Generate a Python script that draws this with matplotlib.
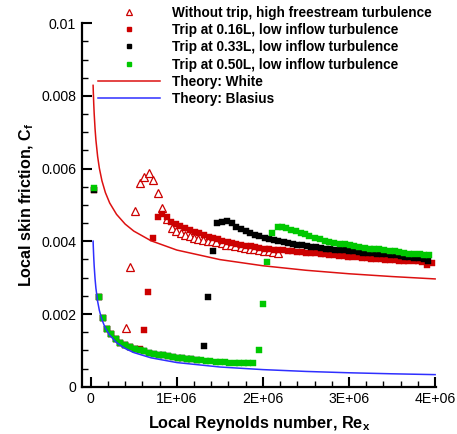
import matplotlib
matplotlib.use("Agg")
import matplotlib.pyplot as plt
from matplotlib.lines import Line2D
import numpy as np

plt.rcParams['font.family'] = ['Liberation Sans', 'DejaVu Sans']
plt.rcParams['mathtext.fontset'] = 'custom'
plt.rcParams['mathtext.bf'] = 'Liberation Sans:bold'
plt.rcParams['mathtext.rm'] = 'Liberation Sans'

# ---------------- data (Re in millions) ----------------
tri_re = [0.408, 0.46, 0.512, 0.567, 0.624, 0.678, 0.724, 0.778, 0.832, 0.888, 0.944, 0.994,
          1.05, 1.10, 1.15, 1.20, 1.25, 1.30, 1.36, 1.41, 1.46, 1.52, 1.57, 1.63, 1.68, 1.74,
          1.79, 1.85, 1.90, 1.96, 2.01, 2.07, 2.12, 2.18]
tri_cf = [0.00162, 0.00329, 0.00484, 0.00561, 0.00576, 0.00588, 0.00569, 0.00532, 0.00492,
          0.0046, 0.00436, 0.00428, 0.00422, 0.00417, 0.00415, 0.0041, 0.00406, 0.00404,
          0.00401, 0.004, 0.00397, 0.00394, 0.00391, 0.00389, 0.00386, 0.00384, 0.00382,
          0.0038, 0.00378, 0.00376, 0.00374, 0.00372, 0.0037, 0.00369]

red_re = [0.038, 0.092, 0.142, 0.193, 0.24, 0.29, 0.34, 0.40, 0.455, 0.51, 0.57, 0.624, 0.67,
          0.724, 0.778, 0.832, 0.886, 0.936, 0.99, 1.04, 1.10, 1.156, 1.21, 1.26, 1.32, 1.37,
          1.42, 1.48, 1.53, 1.59, 1.64, 1.69, 1.75, 1.80, 1.86, 1.91, 1.96, 2.02, 2.07, 2.13,
          2.18, 2.23, 2.29, 2.34, 2.40, 2.45, 2.50, 2.56, 2.61, 2.67, 2.72, 2.77, 2.83, 2.88,
          2.94, 2.99, 3.04, 3.10, 3.15, 3.21, 3.26, 3.31, 3.37, 3.42, 3.48, 3.53, 3.58, 3.64,
          3.69, 3.75, 3.80, 3.85, 3.91, 3.96]
red_cf = [0.00540, 0.00248, 0.00188, 0.00160, 0.00145, 0.00130, 0.00121, 0.00115, 0.00108,
          0.00104, 0.00103, 0.00156, 0.00261, 0.00410, 0.00468, 0.00475, 0.00466, 0.00454,
          0.00448, 0.00442, 0.00437, 0.00431, 0.00426, 0.00422, 0.00417, 0.00413, 0.00409,
          0.00405, 0.00401, 0.00398, 0.00395, 0.00393, 0.00390, 0.00388, 0.00386, 0.00384,
          0.00382, 0.00380, 0.00379, 0.00377, 0.00376, 0.00375, 0.00374, 0.00372, 0.00371,
          0.00370, 0.00369, 0.00368, 0.00367, 0.00365, 0.00364, 0.00363, 0.00362, 0.00360,
          0.00359, 0.00358, 0.00357, 0.00356, 0.00355, 0.00354, 0.00352, 0.00351, 0.00350,
          0.00349, 0.00349, 0.00348, 0.00347, 0.00347, 0.00346, 0.00345, 0.00345, 0.00344,
          0.00336, 0.00340]

blk_re = [0.038, 0.092, 0.142, 0.193, 0.24, 0.29, 0.34, 0.40, 0.455, 0.51, 0.57, 0.62, 0.68,
          0.73, 0.79, 0.84, 0.90, 0.95, 1.01, 1.06, 1.12, 1.17, 1.23, 1.31, 1.36, 1.418,
          1.47, 1.52, 1.58, 1.64, 1.69, 1.74, 1.80, 1.85, 1.91, 1.96, 2.02, 2.07, 2.13, 2.18,
          2.24, 2.29, 2.35, 2.40, 2.45, 2.51, 2.56, 2.62, 2.67, 2.73, 2.78, 2.84, 2.89, 2.94,
          3.00, 3.05, 3.11, 3.16, 3.22, 3.27, 3.32, 3.38, 3.43, 3.49, 3.54, 3.60, 3.65, 3.70,
          3.76, 3.81, 3.87, 3.92]
blk_cf = [0.0054, 0.00248, 0.00188, 0.0016, 0.00145, 0.0013, 0.00121, 0.00115, 0.00108,
          0.00104, 0.001, 0.00097, 0.00093, 0.0009, 0.00088, 0.00086, 0.00084, 0.00082,
          0.0008, 0.00079, 0.00077, 0.00076, 0.00074, 0.00113, 0.00248, 0.00374,
          0.00451, 0.00453, 0.00456, 0.0045, 0.0044, 0.00434, 0.00427, 0.00422, 0.00418,
          0.00414, 0.0041, 0.00407, 0.00404, 0.00401, 0.00398, 0.00395, 0.00393, 0.00391,
          0.00389, 0.00387, 0.00385, 0.00383, 0.00381, 0.0038, 0.00379, 0.00377, 0.00376,
          0.00375, 0.00373, 0.00372, 0.0037, 0.00369, 0.00368, 0.00367, 0.00366, 0.00365,
          0.00364, 0.00362, 0.00361, 0.0036, 0.00358, 0.00357, 0.00355, 0.00354, 0.00352,
          0.00347]

grn_re = [0.038, 0.092, 0.142, 0.193, 0.24, 0.29, 0.34, 0.40, 0.455, 0.51, 0.57, 0.62, 0.68,
          0.73, 0.79, 0.84, 0.90, 0.95, 1.01, 1.06, 1.12, 1.17, 1.23, 1.28, 1.34, 1.39, 1.45,
          1.50, 1.56, 1.61, 1.67, 1.72, 1.78, 1.83, 1.89,
          1.95, 2.00, 2.05, 2.11, 2.17, 2.22, 2.27, 2.33, 2.38, 2.44, 2.49, 2.54, 2.60, 2.66,
          2.72, 2.77, 2.83, 2.89, 2.95, 3.01, 3.06, 3.12, 3.18, 3.24, 3.29, 3.35, 3.41, 3.47,
          3.53, 3.58, 3.64, 3.70, 3.76, 3.82, 3.87, 3.93]
grn_cf = [0.00546, 0.00248, 0.00188, 0.0016, 0.00145, 0.0013, 0.00121, 0.00115, 0.00108,
          0.00104, 0.001, 0.00097, 0.00093, 0.0009, 0.00088, 0.00086, 0.00084, 0.00082,
          0.0008, 0.00079, 0.00077, 0.00076, 0.00074, 0.00073, 0.00071, 0.0007, 0.00069,
          0.00068, 0.00067, 0.00066, 0.00066, 0.00065, 0.00064, 0.00064, 0.00064,
          0.00101, 0.00227, 0.00343, 0.00424, 0.0044, 0.0044, 0.00436, 0.00431, 0.00428,
          0.00424, 0.00419, 0.00415, 0.00409, 0.00406, 0.00402, 0.00399, 0.00396, 0.00393,
          0.00393, 0.0039, 0.00387, 0.00384, 0.00382, 0.0038, 0.0038, 0.00378, 0.00376,
          0.00373, 0.00373, 0.00371, 0.00367, 0.00366, 0.00365, 0.00364, 0.00363, 0.00362]

theory_re = [0.0275, 0.03, 0.035, 0.04, 0.05, 0.06, 0.08, 0.10, 0.13, 0.17, 0.22, 0.30, 0.40,
             0.50, 0.70, 1.0, 1.5, 2.0, 2.5, 3.0, 3.5, 4.0]
white_cf = [0.008290, 0.008099, 0.007775, 0.007511, 0.007098, 0.006786, 0.006333, 0.006012,
            0.005665, 0.005341, 0.005054, 0.004740, 0.004473, 0.004281, 0.004015, 0.003759,
            0.003497, 0.003327, 0.003203, 0.003107, 0.003030, 0.002965]
blasius_cf = [0.004004, 0.003834, 0.003549, 0.003320, 0.002970, 0.002711, 0.002348, 0.002100,
              0.001842, 0.001610, 0.001416, 0.001212, 0.001050, 0.000939, 0.000794, 0.000664,
              0.000542, 0.000470, 0.000420, 0.000383, 0.000355, 0.000332]

labels = ["Without trip, high freestream turbulence",
          "Trip at 0.16L, low inflow turbulence",
          "Trip at 0.33L, low inflow turbulence",
          "Trip at 0.50L, low inflow turbulence",
          "Theory: White",
          "Theory: Blasius"]

xticks = [0, 1e6, 2e6, 3e6, 4e6]
xticklabels = ["0", "1E+06", "2E+06", "3E+06", "4E+06"]
yticks = [0, 0.002, 0.004, 0.006, 0.008, 0.01]
yticklabels = ["0", "0.002", "0.004", "0.006", "0.008", "0.01"]

# ---------------- figure ----------------
W, H = 457, 434
fig = plt.figure(figsize=(W / 100, H / 100), dpi=100)
ax = fig.add_axes([81.7 / W, 1 - 386.7 / H, (436 - 81.7) / W, (386.7 - 23.2) / H])

RED = '#cc0000'
GRN = '#00c800'
sq = 4.9
M = 1e6

ax.plot(np.array(tri_re) * M, tri_cf, linestyle='none', marker='^', ms=5.4,
        mfc='white', mec=RED, mew=0.9, zorder=3)
ax.plot(np.array(red_re) * M, red_cf, linestyle='none', marker='s', ms=sq,
        mfc=RED, mec=RED, mew=0.3, zorder=4)
ax.plot(np.array(blk_re) * M, blk_cf, linestyle='none', marker='s', ms=sq,
        mfc='black', mec='black', mew=0.3, zorder=5)
ax.plot(np.array(grn_re) * M, grn_cf, linestyle='none', marker='s', ms=sq,
        mfc=GRN, mec=GRN, mew=0.3, zorder=6)
ax.plot(np.array(theory_re) * M, white_cf, color='#dd1111', lw=1.1, zorder=7)
ax.plot(np.array(theory_re) * M, blasius_cf, color='#2f2fff', lw=1.1, zorder=7)

ax.set_xlim(-0.105e6, 4.01e6)
ax.set_ylim(0, 0.01)
for s in ['top', 'right']:
    ax.spines[s].set_visible(False)
for s in ['left', 'bottom']:
    ax.spines[s].set_linewidth(1.6)

ax.set_xticks(xticks)
ax.set_xticklabels(xticklabels)
ax.set_yticks(yticks)
ax.set_yticklabels(yticklabels)
ax.set_xticks(np.arange(0, 4.01e6, 0.2e6), minor=True)
ax.set_yticks(np.arange(0, 0.01001, 0.0005), minor=True)
ax.tick_params(which='major', direction='in', length=7, width=1.5, labelsize=10.2, pad=4)
ax.tick_params(which='minor', direction='in', length=4, width=1.0)

ax.set_xlabel(r'Local Reynolds number, Re$_\mathbf{x}$', fontsize=11.7, fontweight='bold')
ax.set_ylabel(r'Local skin friction, C$_\mathbf{f}$', fontsize=11.6, fontweight='bold')
ax.xaxis.set_label_coords(0.5, -0.075)
ax.yaxis.set_label_coords(-0.13, 0.5)

handles = [
    Line2D([], [], linestyle='none', marker='^', ms=4, mfc='white', mec=RED, mew=0.9),
    Line2D([], [], linestyle='none', marker='s', ms=3.4, mfc=RED, mec=RED),
    Line2D([], [], linestyle='none', marker='s', ms=3.4, mfc='black', mec='black'),
    Line2D([], [], linestyle='none', marker='s', ms=3.4, mfc=GRN, mec=GRN),
    Line2D([], [], color='#dd1111', lw=1.1),
    Line2D([], [], color='#2f2fff', lw=1.1),
]
leg = fig.legend(handles, labels, loc='upper left', bbox_to_anchor=(95 / W, 1 - 3 / H),
                 frameon=False, prop={'weight': 'bold', 'size': 9.8}, handlelength=4.6,
                 handletextpad=0.85, labelspacing=0.24, borderpad=0.2, borderaxespad=0)

fig.savefig('out.png', dpi=100)
